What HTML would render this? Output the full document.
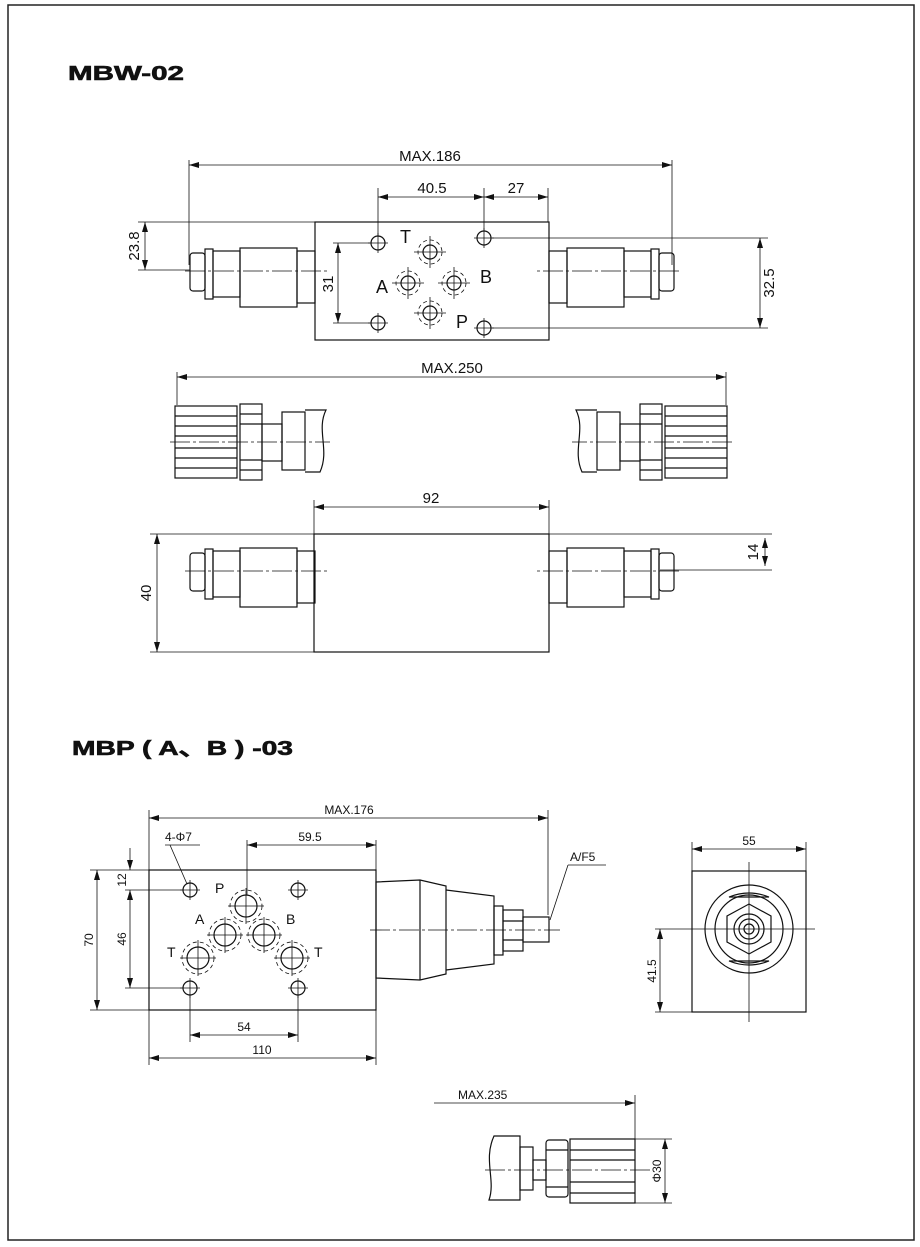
<!DOCTYPE html>
<html><head><meta charset="utf-8"><style>
html,body{margin:0;padding:0;background:#fff;}
svg{display:block;}
text{font-family:"Liberation Sans",sans-serif;fill:#111;}
.d{font-size:14px;}
</style></head><body>
<svg width="920" height="1247" viewBox="0 0 920 1247" xmlns="http://www.w3.org/2000/svg">
<defs>
<marker id="a" viewBox="0 0 10 6" refX="10" refY="3" markerWidth="10" markerHeight="6" orient="auto-start-reverse" markerUnits="userSpaceOnUse"><path d="M0,0 L10,3 L0,6 z" fill="#111"/></marker>
<g id="act">
<rect x="190" y="253" width="15" height="38" rx="3"/>
<rect x="205" y="249" width="8" height="50"/>
<rect x="213" y="251" width="27" height="46"/>
<rect x="240" y="248" width="57" height="59"/>
<rect x="297" y="251" width="18" height="52"/>
<line x1="185" y1="271" x2="330" y2="271" stroke-dasharray="20 3 3 3" stroke-width="0.8"/>
</g>
<g id="knob">
<rect x="175" y="406" width="62" height="72"/>
<line x1="175" y1="416" x2="237" y2="416"/><line x1="175" y1="426" x2="237" y2="426"/><line x1="175" y1="436" x2="237" y2="436"/><line x1="175" y1="448" x2="237" y2="448"/><line x1="175" y1="458" x2="237" y2="458"/><line x1="175" y1="468" x2="237" y2="468"/>
<rect x="240" y="404" width="22" height="76"/>
<line x1="240" y1="414" x2="262" y2="414"/><line x1="240" y1="424" x2="262" y2="424"/><line x1="240" y1="460" x2="262" y2="460"/><line x1="240" y1="470" x2="262" y2="470"/>
<rect x="262" y="424" width="20" height="37"/>
<rect x="282" y="412" width="23" height="58"/>
<path d="M305,410 L326,410 C316,430 330,450 320,472 L305,472"/>
<line x1="170" y1="442" x2="330" y2="442" stroke-dasharray="20 3 3 3" stroke-width="0.8"/>
</g>
</defs>
<rect x="8" y="5" width="906" height="1235" fill="none" stroke="#222" stroke-width="1.5"/>
<text x="68" y="80" font-size="20" font-weight="bold" textLength="116" lengthAdjust="spacingAndGlyphs" stroke="#111" stroke-width="0.6">MBW-02</text>
<text x="72" y="755" font-size="20" font-weight="bold" textLength="221" lengthAdjust="spacingAndGlyphs" stroke="#111" stroke-width="0.6">MBP ( A、B ) -03</text>

<g fill="none" stroke="#111" stroke-width="1.2">
<rect x="315" y="222" width="234" height="118"/>
<use href="#act"/>
<use href="#act" transform="translate(864,0) scale(-1,1)"/>
<circle cx="378" cy="243" r="7"/><circle cx="378" cy="323" r="7"/><circle cx="484" cy="238" r="7"/><circle cx="484" cy="328" r="7"/>
<g>
<circle cx="430" cy="252" r="7"/><circle cx="430" cy="252" r="12" stroke-dasharray="4 3" stroke-width="0.8"/>
<circle cx="408" cy="283" r="7"/><circle cx="408" cy="283" r="12" stroke-dasharray="4 3" stroke-width="0.8"/>
<circle cx="454" cy="283" r="7"/><circle cx="454" cy="283" r="12" stroke-dasharray="4 3" stroke-width="0.8"/>
<circle cx="430" cy="313" r="7"/><circle cx="430" cy="313" r="12" stroke-dasharray="4 3" stroke-width="0.8"/>
</g>
<g stroke-width="0.8">
<path d="M378,233V253M368,243H388M378,313V333M368,323H388M484,228V248M474,238H494M484,318V338M474,328H494"/>
<path d="M430,236V268M414,252H446M408,267V299M392,283H424M454,267V299M438,283H470M430,297V329M414,313H446"/>
<line x1="189" y1="160" x2="189" y2="265"/><line x1="672" y1="160" x2="672" y2="265"/>
<line x1="189" y1="165" x2="672" y2="165" marker-start="url(#a)" marker-end="url(#a)"/>
<line x1="378" y1="188" x2="378" y2="236"/><line x1="484" y1="188" x2="484" y2="231"/><line x1="548" y1="188" x2="548" y2="222"/>
<line x1="378" y1="197" x2="484" y2="197" marker-start="url(#a)" marker-end="url(#a)"/>
<line x1="484" y1="197" x2="548" y2="197" marker-start="url(#a)" marker-end="url(#a)"/>
<line x1="138" y1="222" x2="315" y2="222"/><line x1="138" y1="270" x2="190" y2="270"/>
<line x1="145" y1="222" x2="145" y2="270" marker-start="url(#a)" marker-end="url(#a)"/>
<line x1="333" y1="243" x2="370" y2="243"/><line x1="333" y1="323" x2="370" y2="323"/>
<line x1="338" y1="243" x2="338" y2="323" marker-start="url(#a)" marker-end="url(#a)"/>
<line x1="492" y1="238" x2="768" y2="238"/><line x1="492" y1="328" x2="768" y2="328"/>
<line x1="760" y1="238" x2="760" y2="328" marker-start="url(#a)" marker-end="url(#a)"/>
<line x1="177" y1="372" x2="177" y2="405"/><line x1="726" y1="372" x2="726" y2="405"/>
<line x1="177" y1="377" x2="726" y2="377" marker-start="url(#a)" marker-end="url(#a)"/>
</g>
<use href="#knob"/>
<use href="#knob" transform="translate(902,0) scale(-1,1)"/>

<rect x="314" y="534" width="235" height="118"/>
<use href="#act" transform="translate(0,300)"/>
<use href="#act" transform="translate(864,300) scale(-1,1)"/>
<g stroke-width="0.8">
<line x1="314" y1="500" x2="314" y2="534"/><line x1="549" y1="500" x2="549" y2="534"/>
<line x1="314" y1="507" x2="549" y2="507" marker-start="url(#a)" marker-end="url(#a)"/>
<line x1="150" y1="534" x2="314" y2="534"/><line x1="150" y1="652" x2="314" y2="652"/>
<line x1="157" y1="534" x2="157" y2="652" marker-start="url(#a)" marker-end="url(#a)"/>
<line x1="549" y1="534" x2="772" y2="534"/><line x1="660" y1="570" x2="772" y2="570"/>
<line x1="765" y1="538" x2="765" y2="566" marker-start="url(#a)" marker-end="url(#a)"/>
</g>

<rect x="149" y="870" width="227" height="140"/>
<path d="M376,882 L420,880 L446,886 L446,974 L420,980 L376,978 z"/>
<line x1="420" y1="880" x2="420" y2="980"/>
<path d="M446,890 L494,896 L494,964 L446,970"/>
<rect x="494" y="906" width="9" height="49"/>
<rect x="503" y="910" width="20" height="41"/>
<line x1="503" y1="921" x2="523" y2="921"/><line x1="503" y1="940" x2="523" y2="940"/>
<rect x="523" y="917" width="26" height="25"/>
<line x1="370" y1="930" x2="560" y2="930" stroke-width="0.8" stroke-dasharray="20 3 3 3"/>
<circle cx="190" cy="890" r="7"/><circle cx="298" cy="890" r="7"/><circle cx="190" cy="988" r="7"/><circle cx="298" cy="988" r="7"/>
<g>
<circle cx="246" cy="906" r="11"/><circle cx="246" cy="906" r="16" stroke-dasharray="4 3" stroke-width="0.8"/>
<circle cx="225" cy="935" r="11"/><circle cx="225" cy="935" r="16" stroke-dasharray="4 3" stroke-width="0.8"/>
<circle cx="264" cy="935" r="11"/><circle cx="264" cy="935" r="16" stroke-dasharray="4 3" stroke-width="0.8"/>
<circle cx="198" cy="958" r="11"/><circle cx="198" cy="958" r="16" stroke-dasharray="4 3" stroke-width="0.8"/>
<circle cx="292" cy="958" r="11"/><circle cx="292" cy="958" r="16" stroke-dasharray="4 3" stroke-width="0.8"/>
</g>
<g stroke-width="0.8">
<path d="M190,880V900M180,890H200M298,880V900M288,890H308M190,978V998M180,988H200M298,978V998M288,988H308"/>
<path d="M246,888V924M228,906H264M225,917V953M207,935H243M264,917V953M246,935H282M198,940V976M180,958H216M292,940V976M274,958H310"/>
<line x1="149" y1="810" x2="149" y2="1065"/><line x1="548" y1="810" x2="548" y2="915"/>
<line x1="149" y1="818" x2="548" y2="818" marker-start="url(#a)" marker-end="url(#a)"/>
<line x1="247" y1="840" x2="247" y2="895"/><line x1="376" y1="840" x2="376" y2="1065"/>
<line x1="247" y1="845" x2="376" y2="845" marker-start="url(#a)" marker-end="url(#a)"/>
<line x1="165" y1="845" x2="200" y2="845"/><line x1="170" y1="845" x2="187" y2="884"/>
<line x1="550" y1="920" x2="568" y2="865"/><line x1="568" y1="865" x2="606" y2="865"/>
<line x1="90" y1="870" x2="149" y2="870"/><line x1="90" y1="1010" x2="149" y2="1010"/>
<line x1="97" y1="870" x2="97" y2="1010" marker-start="url(#a)" marker-end="url(#a)"/>
<line x1="125" y1="890" x2="183" y2="890"/><line x1="125" y1="988" x2="183" y2="988"/>
<line x1="130" y1="890" x2="130" y2="988" marker-start="url(#a)" marker-end="url(#a)"/>
<line x1="130" y1="848" x2="130" y2="870" marker-end="url(#a)"/>
<line x1="190" y1="995" x2="190" y2="1042"/><line x1="298" y1="995" x2="298" y2="1042"/>
<line x1="190" y1="1035" x2="298" y2="1035" marker-start="url(#a)" marker-end="url(#a)"/>
<line x1="149" y1="1058" x2="376" y2="1058" marker-start="url(#a)" marker-end="url(#a)"/>
</g>

<rect x="692" y="871" width="114" height="141"/>
<circle cx="749" cy="929" r="44"/><circle cx="749" cy="929" r="34"/>
<polygon points="749,904 771,916 771,942 749,954 727,942 727,916"/>
<circle cx="749" cy="929" r="15"/><circle cx="749" cy="929" r="10"/><circle cx="749" cy="929" r="5"/>
<path d="M729,897 Q749,889 769,897 z M729,961 Q749,969 769,961 z"/>
<g stroke-width="0.8">
<line x1="749" y1="862" x2="749" y2="1022"/><line x1="655" y1="929" x2="815" y2="929"/>
<line x1="692" y1="842" x2="692" y2="871"/><line x1="806" y1="842" x2="806" y2="871"/>
<line x1="692" y1="849" x2="806" y2="849" marker-start="url(#a)" marker-end="url(#a)"/>
<line x1="655" y1="1012" x2="692" y2="1012"/>
<line x1="660" y1="929" x2="660" y2="1012" marker-start="url(#a)" marker-end="url(#a)"/>
</g>

<path d="M494,1136 L520,1136 L520,1200 L489,1200 C496,1180 483,1160 494,1136 z"/>
<rect x="520" y="1147" width="13" height="43"/>
<rect x="533" y="1160" width="13" height="20"/>
<rect x="546" y="1140" width="22" height="57" rx="3"/>
<line x1="546" y1="1150" x2="568" y2="1150"/><line x1="546" y1="1187" x2="568" y2="1187"/>
<rect x="570" y="1139" width="65" height="64"/>
<line x1="570" y1="1150" x2="635" y2="1150"/><line x1="570" y1="1160" x2="635" y2="1160"/><line x1="570" y1="1182" x2="635" y2="1182"/><line x1="570" y1="1193" x2="635" y2="1193"/>
<g stroke-width="0.8">
<line x1="485" y1="1170" x2="650" y2="1170" stroke-dasharray="20 3 3 3"/>
<line x1="434" y1="1103" x2="635" y2="1103" marker-end="url(#a)"/>
<line x1="635" y1="1095" x2="635" y2="1139"/>
<line x1="635" y1="1139" x2="672" y2="1139"/><line x1="635" y1="1203" x2="672" y2="1203"/>
<line x1="665" y1="1139" x2="665" y2="1203" marker-start="url(#a)" marker-end="url(#a)"/>
</g>
</g>

<g class="d">
<text x="430" y="161" text-anchor="middle" font-size="15">MAX.186</text>
<text x="432" y="193" text-anchor="middle" font-size="15">40.5</text>
<text x="516" y="193" text-anchor="middle" font-size="15">27</text>
<text x="452" y="373" text-anchor="middle" font-size="15">MAX.250</text>
<text x="431" y="503" text-anchor="middle" font-size="15">92</text>
<text transform="translate(139,246) rotate(-90)" text-anchor="middle" font-size="15">23.8</text>
<text transform="translate(333,284) rotate(-90)" text-anchor="middle" font-size="15">31</text>
<text transform="translate(774,283) rotate(-90)" text-anchor="middle" font-size="15">32.5</text>
<text transform="translate(151,593) rotate(-90)" text-anchor="middle" font-size="15">40</text>
<text transform="translate(758,552) rotate(-90)" text-anchor="middle" font-size="15">14</text>
<text x="400" y="243" font-family="Liberation Serif" font-size="18">T</text>
<text x="376" y="293" font-family="Liberation Serif" font-size="18">A</text>
<text x="480" y="283" font-family="Liberation Serif" font-size="18">B</text>
<text x="456" y="328" font-family="Liberation Serif" font-size="18">P</text>
<text x="349" y="814" text-anchor="middle" font-size="12">MAX.176</text>
<text x="310" y="841" text-anchor="middle" font-size="12">59.5</text>
<text x="165" y="841" font-size="12">4-Φ7</text>
<text x="570" y="861" font-size="12">A/F5</text>
<text x="244" y="1031" text-anchor="middle" font-size="12">54</text>
<text x="262" y="1054" text-anchor="middle" font-size="12">110</text>
<text transform="translate(93,940) rotate(-90)" text-anchor="middle" font-size="12">70</text>
<text transform="translate(126,939) rotate(-90)" text-anchor="middle" font-size="12">46</text>
<text transform="translate(126,880) rotate(-90)" text-anchor="middle" font-size="12">12</text>
<text x="215" y="893" font-size="14">P</text>
<text x="195" y="924" font-size="14">A</text>
<text x="286" y="924" font-size="14">B</text>
<text x="167" y="957" font-size="14">T</text>
<text x="314" y="957" font-size="14">T</text>
<text x="749" y="845" text-anchor="middle" font-size="12">55</text>
<text transform="translate(656,971) rotate(-90)" text-anchor="middle" font-size="12">41.5</text>
<text x="458" y="1099" font-size="12">MAX.235</text>
<text transform="translate(661,1171) rotate(-90)" text-anchor="middle" font-size="12">Φ30</text>
</g>
</svg>
</body></html>
